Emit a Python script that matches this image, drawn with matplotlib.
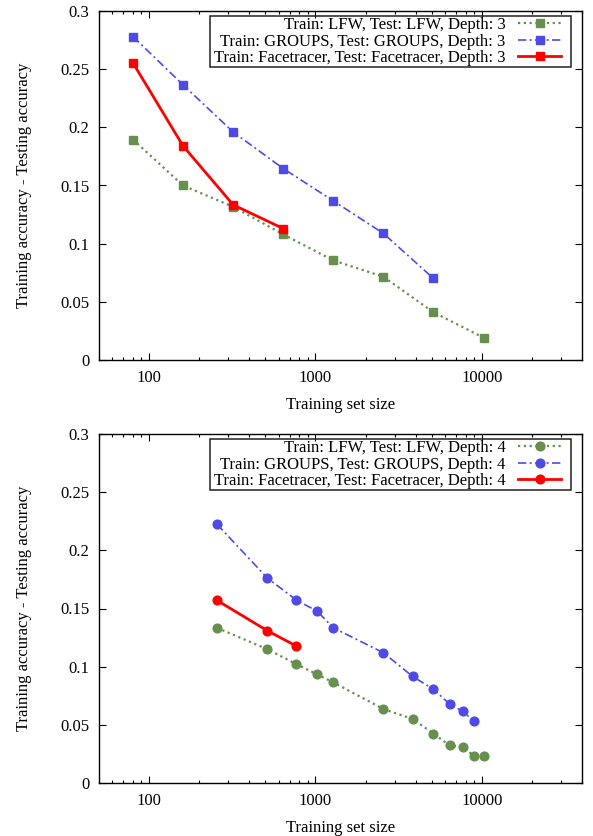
import matplotlib.pyplot as plt
from matplotlib.patches import Rectangle
from matplotlib.ticker import LogLocator, FixedLocator, FixedFormatter, NullFormatter

plt.rcParams['font.family'] = ['Liberation Serif', 'DejaVu Serif']

# depth 3 runs
x_d3 = [80, 160, 320, 640, 1280, 2560, 5120, 10240]
lfw_d3 = [0.1895, 0.150, 0.1317, 0.108, 0.0856, 0.0716, 0.041, 0.0192]
groups_d3 = [0.278, 0.2365, 0.196, 0.1646, 0.1368, 0.1088, 0.0701]
face_d3 = [0.2554, 0.184, 0.1334, 0.113]

# depth 4 runs
x_d4 = [256, 512, 768, 1024, 1280, 2560, 3840, 5120, 6400, 7680, 8960, 10240]
lfw_d4 = [0.1334, 0.1151, 0.1022, 0.0933, 0.0865, 0.0636, 0.055, 0.0424,
          0.0324, 0.0306, 0.0235, 0.0235]
groups_d4 = [0.2224, 0.1764, 0.1572, 0.1477, 0.1334, 0.112, 0.0916, 0.0805,
             0.0679, 0.0616, 0.053]
face_d4 = [0.157, 0.131, 0.1177]

y_ticks = [0, 0.05, 0.1, 0.15, 0.2, 0.25, 0.3]
y_labels = ['0', '0.05', '0.1', '0.15', '0.2', '0.25', '0.3']
x_ticks = [100, 1000, 10000]
x_labels = ['100', '1000', '10000']

GREEN = '#67904f'
BLUE = '#4d4ae6'
RED = '#ff0000'
FS = 12

fig = plt.figure(figsize=(5.93, 8.36), dpi=100)
ax_top = fig.add_axes([99 / 593, 1 - 360 / 836, 483 / 593, 349 / 836])
ax_bot = fig.add_axes([99 / 593, 1 - 783 / 836, 483 / 593, 349 / 836])


def draw(ax, x, lfw, groups, face, depth, marker, ms):
    ax.plot(x[:len(lfw)], lfw, color=GREEN, ls=(0, (1, 1.6)), lw=1.6,
            marker=marker, ms=ms, mec=GREEN,
            label=f'Train: LFW, Test: LFW, Depth: {depth}')
    ax.plot(x[:len(groups)], groups, color=BLUE, ls=(0, (5, 2, 1.2, 2)), lw=1.2,
            marker=marker, ms=ms, mec=BLUE,
            label=f'Train: GROUPS, Test: GROUPS, Depth: {depth}')
    ax.plot(x[:len(face)], face, color=RED, ls='-', lw=2,
            marker=marker, ms=ms, mec=RED,
            label=f'Train: Facetracer, Test: Facetracer, Depth: {depth}')

    ax.set_xscale('log')
    ax.set_xlim(50, 40000)
    ax.set_ylim(0, 0.3)
    ax.xaxis.set_major_locator(FixedLocator(x_ticks))
    ax.xaxis.set_major_formatter(FixedFormatter(x_labels))
    ax.xaxis.set_minor_locator(LogLocator(base=10, subs=range(2, 10)))
    ax.xaxis.set_minor_formatter(NullFormatter())
    ax.yaxis.set_major_locator(FixedLocator(y_ticks))
    ax.yaxis.set_major_formatter(FixedFormatter(y_labels))
    ax.tick_params(which='both', direction='in', top=True, right=True,
                   labelsize=FS)
    ax.tick_params(which='major', length=5, width=0.8, pad=7)
    ax.tick_params(which='minor', length=2.5, width=0.8)
    for s in ax.spines.values():
        s.set_linewidth(1.0)

    ax.set_xlabel('Training set size', fontsize=FS, labelpad=8)
    ax.set_ylabel('Training accuracy - Testing accuracy', fontsize=FS,
                  labelpad=20)

    leg = ax.legend(loc='upper right', bbox_to_anchor=(0.957, 0.982),
                    borderaxespad=0, markerfirst=False, fontsize=FS,
                    handlelength=2.6, handletextpad=0.75, labelspacing=0.02,
                    borderpad=0, frameon=False, numpoints=1)
    # right-align the rows like gnuplot does
    for col in leg._legend_handle_box.get_children():
        col.align = 'right'
    return leg


legs = [draw(ax_top, x_d3, lfw_d3, groups_d3, face_d3, 3, 's', 6.3),
        draw(ax_bot, x_d4, lfw_d4, groups_d4, face_d4, 4, 'o', 6.3)]

# gnuplot-like key box: wider padding left/right than top/bottom
fig.canvas.draw()
for leg in legs:
    bb = leg.get_window_extent()
    x0, y0 = bb.x0 - 4, bb.y0 - 1
    w, h = bb.width + 14, bb.height + 2
    (fx0, fy0), (fx1, fy1) = fig.transFigure.inverted().transform(
        [(x0, y0), (x0 + w, y0 + h)])
    fig.add_artist(Rectangle((fx0, fy0), fx1 - fx0, fy1 - fy0,
                             transform=fig.transFigure, fill=False,
                             ec='#222222', lw=1.1, zorder=10))

fig.savefig('out.png', dpi=100)
